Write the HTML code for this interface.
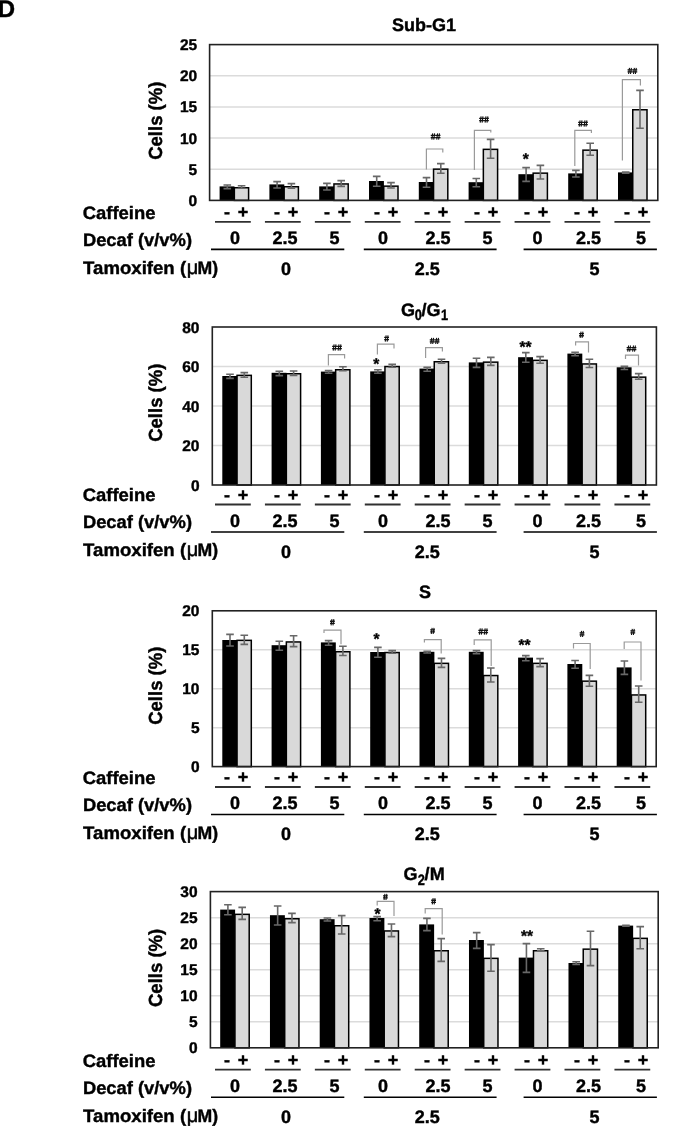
<!DOCTYPE html><html><head><meta charset="utf-8"><style>html,body{margin:0;padding:0;background:#fff;overflow:hidden;}svg{display:block;filter:grayscale(1);}text{stroke:#000;stroke-width:0.4px;}</style></head><body>
<svg width="685" height="1126" viewBox="0 0 685 1126" font-family="'Liberation Sans', sans-serif" font-weight="bold" text-rendering="geometricPrecision">
<rect width="685" height="1126" fill="#fff"/>
<text x="-2.2" y="16.5" font-size="24">D</text>
<line x1="209.6" y1="169.24" x2="657.8" y2="169.24" stroke="#dbdbdb" stroke-width="1.5"/>
<line x1="209.6" y1="138.08" x2="657.8" y2="138.08" stroke="#dbdbdb" stroke-width="1.5"/>
<line x1="209.6" y1="106.92" x2="657.8" y2="106.92" stroke="#dbdbdb" stroke-width="1.5"/>
<line x1="209.6" y1="75.76" x2="657.8" y2="75.76" stroke="#dbdbdb" stroke-width="1.5"/>
<text x="197.2" y="205.90" font-size="15.5" text-anchor="end">0</text>
<text x="197.2" y="174.74" font-size="15.5" text-anchor="end">5</text>
<text x="197.2" y="143.58" font-size="15.5" text-anchor="end">10</text>
<text x="197.2" y="112.42" font-size="15.5" text-anchor="end">15</text>
<text x="197.2" y="81.26" font-size="15.5" text-anchor="end">20</text>
<text x="197.2" y="50.10" font-size="15.5" text-anchor="end">25</text>
<rect x="219.60" y="186.4" width="14.9" height="14.00" fill="#000"/>
<rect x="234.35" y="187.75" width="14.25" height="12.65" fill="#d9d9d9" stroke="#000" stroke-width="1.5"/>
<path d="M227.30 185.0V188.6M223.50 185.0h7.6M223.50 188.6h7.6" stroke="#686868" stroke-width="1.6" fill="none"/>
<path d="M241.60 185.8V188.2M237.80 185.8h7.6M237.80 188.2h7.6" stroke="#686868" stroke-width="1.6" fill="none"/>
<rect x="269.40" y="184.4" width="14.9" height="16.00" fill="#000"/>
<rect x="284.15" y="186.75" width="14.25" height="13.65" fill="#d9d9d9" stroke="#000" stroke-width="1.5"/>
<path d="M277.10 181.6V188.0M273.30 181.6h7.6M273.30 188.0h7.6" stroke="#686868" stroke-width="1.6" fill="none"/>
<path d="M291.40 183.6V188.2M287.60 183.6h7.6M287.60 188.2h7.6" stroke="#686868" stroke-width="1.6" fill="none"/>
<rect x="319.20" y="186.4" width="14.9" height="14.00" fill="#000"/>
<rect x="333.95" y="183.95" width="14.25" height="16.45" fill="#d9d9d9" stroke="#000" stroke-width="1.5"/>
<path d="M326.90 183.4V190.0M323.10 183.4h7.6M323.10 190.0h7.6" stroke="#686868" stroke-width="1.6" fill="none"/>
<path d="M341.20 180.6V186.4M337.40 180.6h7.6M337.40 186.4h7.6" stroke="#686868" stroke-width="1.6" fill="none"/>
<rect x="369.00" y="181.0" width="14.9" height="19.40" fill="#000"/>
<rect x="383.75" y="186.15" width="14.25" height="14.25" fill="#d9d9d9" stroke="#000" stroke-width="1.5"/>
<path d="M376.70 176.4V186.2M372.90 176.4h7.6M372.90 186.2h7.6" stroke="#686868" stroke-width="1.6" fill="none"/>
<path d="M391.00 182.6V188.0M387.20 182.6h7.6M387.20 188.0h7.6" stroke="#686868" stroke-width="1.6" fill="none"/>
<rect x="418.80" y="182.0" width="14.9" height="18.40" fill="#000"/>
<rect x="433.55" y="169.15" width="14.25" height="31.25" fill="#d9d9d9" stroke="#000" stroke-width="1.5"/>
<path d="M426.50 177.6V187.2M422.70 177.6h7.6M422.70 187.2h7.6" stroke="#686868" stroke-width="1.6" fill="none"/>
<path d="M440.80 163.6V173.2M437.00 163.6h7.6M437.00 173.2h7.6" stroke="#686868" stroke-width="1.6" fill="none"/>
<rect x="468.60" y="182.2" width="14.9" height="18.20" fill="#000"/>
<rect x="483.35" y="149.35" width="14.25" height="51.05" fill="#d9d9d9" stroke="#000" stroke-width="1.5"/>
<path d="M476.30 178.5V186.7M472.50 178.5h7.6M472.50 186.7h7.6" stroke="#686868" stroke-width="1.6" fill="none"/>
<path d="M490.60 139.4V158.2M486.80 139.4h7.6M486.80 158.2h7.6" stroke="#686868" stroke-width="1.6" fill="none"/>
<rect x="518.40" y="174.2" width="14.9" height="26.20" fill="#000"/>
<rect x="533.15" y="173.15" width="14.25" height="27.25" fill="#d9d9d9" stroke="#000" stroke-width="1.5"/>
<path d="M526.10 167.6V181.4M522.30 167.6h7.6M522.30 181.4h7.6" stroke="#686868" stroke-width="1.6" fill="none"/>
<path d="M540.40 165.4V179.0M536.60 165.4h7.6M536.60 179.0h7.6" stroke="#686868" stroke-width="1.6" fill="none"/>
<rect x="568.20" y="173.4" width="14.9" height="27.00" fill="#000"/>
<rect x="582.95" y="150.15" width="14.25" height="50.25" fill="#d9d9d9" stroke="#000" stroke-width="1.5"/>
<path d="M575.90 170.4V177.0M572.10 170.4h7.6M572.10 177.0h7.6" stroke="#686868" stroke-width="1.6" fill="none"/>
<path d="M590.20 143.2V155.2M586.40 143.2h7.6M586.40 155.2h7.6" stroke="#686868" stroke-width="1.6" fill="none"/>
<rect x="618.00" y="172.4" width="14.9" height="28.00" fill="#000"/>
<rect x="632.75" y="109.75" width="14.25" height="90.65" fill="#d9d9d9" stroke="#000" stroke-width="1.5"/>
<path d="M625.70 172.0V173.2M621.90 172.0h7.6M621.90 173.2h7.6" stroke="#686868" stroke-width="1.6" fill="none"/>
<path d="M640.00 90.4V128.2M636.20 90.4h7.6M636.20 128.2h7.6" stroke="#686868" stroke-width="1.6" fill="none"/>
<rect x="209.6" y="44.6" width="448.20" height="155.80" fill="none" stroke="#222" stroke-width="1.6"/>
<path d="M426.4 169.6V149.0H442.8V152.6" stroke="#9a9a9a" stroke-width="1.2" fill="none"/>
<path d="M474.4 170.0V130.4H490.8V132.6" stroke="#9a9a9a" stroke-width="1.2" fill="none"/>
<path d="M574.8 166.0V130.4H591.4V133.0" stroke="#9a9a9a" stroke-width="1.2" fill="none"/>
<path d="M622.4 160.4V79.6H640.4V85.6" stroke="#9a9a9a" stroke-width="1.2" fill="none"/>
<path d="M432.70 133.40L431.80 139.60M434.60 133.40L433.70 139.60" stroke="#111" stroke-width="1.1" fill="none"/>
<path d="M437.60 133.40L436.70 139.60M439.50 133.40L438.60 139.60" stroke="#111" stroke-width="1.1" fill="none"/>
<path d="M430.75 135.45h4.8M430.75 137.55h4.8M435.65 135.45h4.8M435.65 137.55h4.8" stroke="#111" stroke-width="1.3" fill="none"/>
<path d="M481.10 116.40L480.20 122.60M483.00 116.40L482.10 122.60" stroke="#111" stroke-width="1.1" fill="none"/>
<path d="M486.00 116.40L485.10 122.60M487.90 116.40L487.00 122.60" stroke="#111" stroke-width="1.1" fill="none"/>
<path d="M479.15 118.45h4.8M479.15 120.55h4.8M484.05 118.45h4.8M484.05 120.55h4.8" stroke="#111" stroke-width="1.3" fill="none"/>
<text x="525.8" y="164.2" font-size="15.5" text-anchor="middle" stroke="#000" stroke-width="0.3">*</text>
<path d="M580.10 120.40L579.20 126.60M582.00 120.40L581.10 126.60" stroke="#111" stroke-width="1.1" fill="none"/>
<path d="M585.00 120.40L584.10 126.60M586.90 120.40L586.00 126.60" stroke="#111" stroke-width="1.1" fill="none"/>
<path d="M578.15 122.45h4.8M578.15 124.55h4.8M583.05 122.45h4.8M583.05 124.55h4.8" stroke="#111" stroke-width="1.3" fill="none"/>
<path d="M629.50 67.80L628.60 74.00M631.40 67.80L630.50 74.00" stroke="#111" stroke-width="1.1" fill="none"/>
<path d="M634.40 67.80L633.50 74.00M636.30 67.80L635.40 74.00" stroke="#111" stroke-width="1.1" fill="none"/>
<path d="M627.55 69.85h4.8M627.55 71.95h4.8M632.45 69.85h4.8M632.45 71.95h4.8" stroke="#111" stroke-width="1.3" fill="none"/>
<text transform="translate(162.4 120.7) rotate(-90)" font-size="19" text-anchor="middle" textLength="78.3" lengthAdjust="spacingAndGlyphs">Cells (%)</text>
<text x="392" y="31" font-size="18">Sub-G1</text>
<g transform="translate(0 0)">
<text x="82.7" y="218.9" font-size="18" textLength="72.7" lengthAdjust="spacingAndGlyphs">Caffeine</text>
<text x="82.9" y="245.9" font-size="18" textLength="109.1" lengthAdjust="spacingAndGlyphs">Decaf (v/v%)</text>
<text x="83.1" y="273.8" font-size="18" textLength="103" lengthAdjust="spacingAndGlyphs">Tamoxifen (</text>
<text x="192.6" y="273.8" font-size="20" font-weight="normal" text-anchor="middle" style="stroke-width:0.5px">μ</text>
<text x="197.5" y="273.8" font-size="18" textLength="20.6" lengthAdjust="spacingAndGlyphs">M)</text>
<text x="227.0" y="218" font-size="18" text-anchor="middle">-</text>
<text x="243.0" y="218" font-size="18" text-anchor="middle">+</text>
<line x1="215.00" y1="221.9" x2="250.80" y2="221.9" stroke="#303030" stroke-width="1.8"/>
<text x="277.0" y="218" font-size="18" text-anchor="middle">-</text>
<text x="293.0" y="218" font-size="18" text-anchor="middle">+</text>
<line x1="264.93" y1="221.9" x2="300.73" y2="221.9" stroke="#303030" stroke-width="1.8"/>
<text x="327.0" y="218" font-size="18" text-anchor="middle">-</text>
<text x="343.0" y="218" font-size="18" text-anchor="middle">+</text>
<line x1="314.86" y1="221.9" x2="350.66" y2="221.9" stroke="#303030" stroke-width="1.8"/>
<text x="377.0" y="218" font-size="18" text-anchor="middle">-</text>
<text x="393.0" y="218" font-size="18" text-anchor="middle">+</text>
<line x1="364.79" y1="221.9" x2="400.59" y2="221.9" stroke="#303030" stroke-width="1.8"/>
<text x="427.0" y="218" font-size="18" text-anchor="middle">-</text>
<text x="443.0" y="218" font-size="18" text-anchor="middle">+</text>
<line x1="414.72" y1="221.9" x2="450.52" y2="221.9" stroke="#303030" stroke-width="1.8"/>
<text x="477.0" y="218" font-size="18" text-anchor="middle">-</text>
<text x="493.0" y="218" font-size="18" text-anchor="middle">+</text>
<line x1="464.65" y1="221.9" x2="500.45" y2="221.9" stroke="#303030" stroke-width="1.8"/>
<text x="527.0" y="218" font-size="18" text-anchor="middle">-</text>
<text x="543.0" y="218" font-size="18" text-anchor="middle">+</text>
<line x1="514.58" y1="221.9" x2="550.38" y2="221.9" stroke="#303030" stroke-width="1.8"/>
<text x="577.0" y="218" font-size="18" text-anchor="middle">-</text>
<text x="593.0" y="218" font-size="18" text-anchor="middle">+</text>
<line x1="564.51" y1="221.9" x2="600.31" y2="221.9" stroke="#303030" stroke-width="1.8"/>
<text x="627.0" y="218" font-size="18" text-anchor="middle">-</text>
<text x="643.0" y="218" font-size="18" text-anchor="middle">+</text>
<line x1="614.44" y1="221.9" x2="650.24" y2="221.9" stroke="#303030" stroke-width="1.8"/>
<text x="235" y="244.2" font-size="18" text-anchor="middle">0</text>
<text x="284.9" y="244.2" font-size="18" text-anchor="middle">2.5</text>
<text x="334.6" y="244.2" font-size="18" text-anchor="middle">5</text>
<text x="383.1" y="244.2" font-size="18" text-anchor="middle">0</text>
<text x="438.1" y="244.2" font-size="18" text-anchor="middle">2.5</text>
<text x="487.5" y="244.2" font-size="18" text-anchor="middle">5</text>
<text x="537.5" y="244.2" font-size="18" text-anchor="middle">0</text>
<text x="588.4" y="244.2" font-size="18" text-anchor="middle">2.5</text>
<text x="640.9" y="244.2" font-size="18" text-anchor="middle">5</text>
<line x1="211" y1="249.4" x2="344.3" y2="249.4" stroke="#000" stroke-width="1.6"/>
<line x1="363.8" y1="249.4" x2="496.6" y2="249.4" stroke="#000" stroke-width="1.6"/>
<line x1="523.6" y1="249.4" x2="656.9" y2="249.4" stroke="#000" stroke-width="1.6"/>
<text x="286.1" y="275.1" font-size="18" text-anchor="middle">0</text>
<text x="427.3" y="275.1" font-size="18" text-anchor="middle">2.5</text>
<text x="594.5" y="275.1" font-size="18" text-anchor="middle">5</text>
</g>
<line x1="212.3" y1="445.50" x2="656.4" y2="445.50" stroke="#dbdbdb" stroke-width="1.5"/>
<line x1="212.3" y1="406.00" x2="656.4" y2="406.00" stroke="#dbdbdb" stroke-width="1.5"/>
<line x1="212.3" y1="366.50" x2="656.4" y2="366.50" stroke="#dbdbdb" stroke-width="1.5"/>
<text x="199.5" y="490.50" font-size="15.5" text-anchor="end">0</text>
<text x="199.5" y="451.00" font-size="15.5" text-anchor="end">20</text>
<text x="199.5" y="411.50" font-size="15.5" text-anchor="end">40</text>
<text x="199.5" y="372.00" font-size="15.5" text-anchor="end">60</text>
<text x="199.5" y="332.50" font-size="15.5" text-anchor="end">80</text>
<rect x="222.30" y="376.0" width="14.9" height="109.00" fill="#000"/>
<rect x="237.05" y="375.35" width="14.25" height="109.65" fill="#d9d9d9" stroke="#000" stroke-width="1.5"/>
<path d="M230.00 374.2V378.4M226.20 374.2h7.6M226.20 378.4h7.6" stroke="#686868" stroke-width="1.6" fill="none"/>
<path d="M244.30 372.6V377.2M240.50 372.6h7.6M240.50 377.2h7.6" stroke="#686868" stroke-width="1.6" fill="none"/>
<rect x="271.60" y="372.8" width="14.9" height="112.20" fill="#000"/>
<rect x="286.35" y="373.75" width="14.25" height="111.25" fill="#d9d9d9" stroke="#000" stroke-width="1.5"/>
<path d="M279.30 371.2V375.6M275.50 371.2h7.6M275.50 375.6h7.6" stroke="#686868" stroke-width="1.6" fill="none"/>
<path d="M293.60 371.0V375.4M289.80 371.0h7.6M289.80 375.4h7.6" stroke="#686868" stroke-width="1.6" fill="none"/>
<rect x="320.90" y="371.6" width="14.9" height="113.40" fill="#000"/>
<rect x="335.65" y="369.75" width="14.25" height="115.25" fill="#d9d9d9" stroke="#000" stroke-width="1.5"/>
<path d="M328.60 370.6V373.2M324.80 370.6h7.6M324.80 373.2h7.6" stroke="#686868" stroke-width="1.6" fill="none"/>
<path d="M342.90 366.8V370.8M339.10 366.8h7.6M339.10 370.8h7.6" stroke="#686868" stroke-width="1.6" fill="none"/>
<rect x="370.20" y="371.4" width="14.9" height="113.60" fill="#000"/>
<rect x="384.95" y="366.55" width="14.25" height="118.45" fill="#d9d9d9" stroke="#000" stroke-width="1.5"/>
<path d="M377.90 369.8V373.2M374.10 369.8h7.6M374.10 373.2h7.6" stroke="#686868" stroke-width="1.6" fill="none"/>
<path d="M392.20 364.4V367.2M388.40 364.4h7.6M388.40 367.2h7.6" stroke="#686868" stroke-width="1.6" fill="none"/>
<rect x="419.50" y="368.6" width="14.9" height="116.40" fill="#000"/>
<rect x="434.25" y="361.75" width="14.25" height="123.25" fill="#d9d9d9" stroke="#000" stroke-width="1.5"/>
<path d="M427.20 367.2V371.2M423.40 367.2h7.6M423.40 371.2h7.6" stroke="#686868" stroke-width="1.6" fill="none"/>
<path d="M441.50 359.2V363.2M437.70 359.2h7.6M437.70 363.2h7.6" stroke="#686868" stroke-width="1.6" fill="none"/>
<rect x="468.80" y="362.4" width="14.9" height="122.60" fill="#000"/>
<rect x="483.55" y="362.15" width="14.25" height="122.85" fill="#d9d9d9" stroke="#000" stroke-width="1.5"/>
<path d="M476.50 358.2V367.4M472.70 358.2h7.6M472.70 367.4h7.6" stroke="#686868" stroke-width="1.6" fill="none"/>
<path d="M490.80 357.4V365.4M487.00 357.4h7.6M487.00 365.4h7.6" stroke="#686868" stroke-width="1.6" fill="none"/>
<rect x="518.10" y="357.2" width="14.9" height="127.80" fill="#000"/>
<rect x="532.85" y="360.35" width="14.25" height="124.65" fill="#d9d9d9" stroke="#000" stroke-width="1.5"/>
<path d="M525.80 352.6V362.2M522.00 352.6h7.6M522.00 362.2h7.6" stroke="#686868" stroke-width="1.6" fill="none"/>
<path d="M540.10 356.6V363.2M536.30 356.6h7.6M536.30 363.2h7.6" stroke="#686868" stroke-width="1.6" fill="none"/>
<rect x="567.40" y="353.6" width="14.9" height="131.40" fill="#000"/>
<rect x="582.15" y="363.95" width="14.25" height="121.05" fill="#d9d9d9" stroke="#000" stroke-width="1.5"/>
<path d="M575.10 352.2V355.7M571.30 352.2h7.6M571.30 355.7h7.6" stroke="#686868" stroke-width="1.6" fill="none"/>
<path d="M589.40 359.3V367.5M585.60 359.3h7.6M585.60 367.5h7.6" stroke="#686868" stroke-width="1.6" fill="none"/>
<rect x="616.70" y="367.3" width="14.9" height="117.70" fill="#000"/>
<rect x="631.45" y="377.15" width="14.25" height="107.85" fill="#d9d9d9" stroke="#000" stroke-width="1.5"/>
<path d="M624.40 366.2V369.5M620.60 366.2h7.6M620.60 369.5h7.6" stroke="#686868" stroke-width="1.6" fill="none"/>
<path d="M638.70 373.6V379.3M634.90 373.6h7.6M634.90 379.3h7.6" stroke="#686868" stroke-width="1.6" fill="none"/>
<rect x="212.3" y="327.0" width="444.10" height="158.00" fill="none" stroke="#222" stroke-width="1.6"/>
<path d="M328.4 365.4V354.6H344.6V358.6" stroke="#9a9a9a" stroke-width="1.2" fill="none"/>
<path d="M377.4 354.6V344.2H394.0V348.4" stroke="#9a9a9a" stroke-width="1.2" fill="none"/>
<path d="M425.6 358.0V347.6H442.4V351.4" stroke="#9a9a9a" stroke-width="1.2" fill="none"/>
<path d="M575.6 345.4V341.9H588.5V352.4" stroke="#9a9a9a" stroke-width="1.2" fill="none"/>
<path d="M625.5 358.9V355.2H638.5V365.4" stroke="#9a9a9a" stroke-width="1.2" fill="none"/>
<path d="M334.10 344.40L333.20 350.60M336.00 344.40L335.10 350.60" stroke="#111" stroke-width="1.1" fill="none"/>
<path d="M339.00 344.40L338.10 350.60M340.90 344.40L340.00 350.60" stroke="#111" stroke-width="1.1" fill="none"/>
<path d="M332.15 346.45h4.8M332.15 348.55h4.8M337.05 346.45h4.8M337.05 348.55h4.8" stroke="#111" stroke-width="1.3" fill="none"/>
<text x="376.2" y="368.59999999999997" font-size="15.5" text-anchor="middle" stroke="#000" stroke-width="0.3">*</text>
<path d="M386.15 335.40L385.25 341.60M388.05 335.40L387.15 341.60" stroke="#111" stroke-width="1.1" fill="none"/>
<path d="M384.20 337.45h4.8M384.20 339.55h4.8" stroke="#111" stroke-width="1.3" fill="none"/>
<path d="M431.70 337.80L430.80 344.00M433.60 337.80L432.70 344.00" stroke="#111" stroke-width="1.1" fill="none"/>
<path d="M436.60 337.80L435.70 344.00M438.50 337.80L437.60 344.00" stroke="#111" stroke-width="1.1" fill="none"/>
<path d="M429.75 339.85h4.8M429.75 341.95h4.8M434.65 339.85h4.8M434.65 341.95h4.8" stroke="#111" stroke-width="1.3" fill="none"/>
<text x="525.6" y="351.8" font-size="15.5" text-anchor="middle" stroke="#000" stroke-width="0.3">**</text>
<path d="M581.05 331.60L580.15 337.80M582.95 331.60L582.05 337.80" stroke="#111" stroke-width="1.1" fill="none"/>
<path d="M579.10 333.65h4.8M579.10 335.75h4.8" stroke="#111" stroke-width="1.3" fill="none"/>
<path d="M628.60 345.50L627.70 351.70M630.50 345.50L629.60 351.70" stroke="#111" stroke-width="1.1" fill="none"/>
<path d="M633.50 345.50L632.60 351.70M635.40 345.50L634.50 351.70" stroke="#111" stroke-width="1.1" fill="none"/>
<path d="M626.65 347.55h4.8M626.65 349.65h4.8M631.55 347.55h4.8M631.55 349.65h4.8" stroke="#111" stroke-width="1.3" fill="none"/>
<text transform="translate(162.4 402.7) rotate(-90)" font-size="19" text-anchor="middle" textLength="78.3" lengthAdjust="spacingAndGlyphs">Cells (%)</text>
<text x="407.9" y="316" font-size="18" text-anchor="middle">G</text>
<text transform="translate(418.2 320.2) scale(0.85 1)" font-size="15" text-anchor="middle">0</text>
<text x="423.9" y="316" font-size="18" text-anchor="middle">/</text>
<text x="433.5" y="316" font-size="18" text-anchor="middle">G</text>
<text transform="translate(444.6 320.2) scale(0.85 1)" font-size="15" text-anchor="middle">1</text>
<g transform="translate(0 282.6)">
<text x="82.7" y="218.9" font-size="18" textLength="72.7" lengthAdjust="spacingAndGlyphs">Caffeine</text>
<text x="82.9" y="245.9" font-size="18" textLength="109.1" lengthAdjust="spacingAndGlyphs">Decaf (v/v%)</text>
<text x="83.1" y="273.8" font-size="18" textLength="103" lengthAdjust="spacingAndGlyphs">Tamoxifen (</text>
<text x="192.6" y="273.8" font-size="20" font-weight="normal" text-anchor="middle" style="stroke-width:0.5px">μ</text>
<text x="197.5" y="273.8" font-size="18" textLength="20.6" lengthAdjust="spacingAndGlyphs">M)</text>
<text x="227.0" y="218" font-size="18" text-anchor="middle">-</text>
<text x="243.0" y="218" font-size="18" text-anchor="middle">+</text>
<line x1="215.00" y1="221.9" x2="250.80" y2="221.9" stroke="#303030" stroke-width="1.8"/>
<text x="277.0" y="218" font-size="18" text-anchor="middle">-</text>
<text x="293.0" y="218" font-size="18" text-anchor="middle">+</text>
<line x1="264.93" y1="221.9" x2="300.73" y2="221.9" stroke="#303030" stroke-width="1.8"/>
<text x="327.0" y="218" font-size="18" text-anchor="middle">-</text>
<text x="343.0" y="218" font-size="18" text-anchor="middle">+</text>
<line x1="314.86" y1="221.9" x2="350.66" y2="221.9" stroke="#303030" stroke-width="1.8"/>
<text x="377.0" y="218" font-size="18" text-anchor="middle">-</text>
<text x="393.0" y="218" font-size="18" text-anchor="middle">+</text>
<line x1="364.79" y1="221.9" x2="400.59" y2="221.9" stroke="#303030" stroke-width="1.8"/>
<text x="427.0" y="218" font-size="18" text-anchor="middle">-</text>
<text x="443.0" y="218" font-size="18" text-anchor="middle">+</text>
<line x1="414.72" y1="221.9" x2="450.52" y2="221.9" stroke="#303030" stroke-width="1.8"/>
<text x="477.0" y="218" font-size="18" text-anchor="middle">-</text>
<text x="493.0" y="218" font-size="18" text-anchor="middle">+</text>
<line x1="464.65" y1="221.9" x2="500.45" y2="221.9" stroke="#303030" stroke-width="1.8"/>
<text x="527.0" y="218" font-size="18" text-anchor="middle">-</text>
<text x="543.0" y="218" font-size="18" text-anchor="middle">+</text>
<line x1="514.58" y1="221.9" x2="550.38" y2="221.9" stroke="#303030" stroke-width="1.8"/>
<text x="577.0" y="218" font-size="18" text-anchor="middle">-</text>
<text x="593.0" y="218" font-size="18" text-anchor="middle">+</text>
<line x1="564.51" y1="221.9" x2="600.31" y2="221.9" stroke="#303030" stroke-width="1.8"/>
<text x="627.0" y="218" font-size="18" text-anchor="middle">-</text>
<text x="643.0" y="218" font-size="18" text-anchor="middle">+</text>
<line x1="614.44" y1="221.9" x2="650.24" y2="221.9" stroke="#303030" stroke-width="1.8"/>
<text x="235" y="244.2" font-size="18" text-anchor="middle">0</text>
<text x="284.9" y="244.2" font-size="18" text-anchor="middle">2.5</text>
<text x="334.6" y="244.2" font-size="18" text-anchor="middle">5</text>
<text x="383.1" y="244.2" font-size="18" text-anchor="middle">0</text>
<text x="438.1" y="244.2" font-size="18" text-anchor="middle">2.5</text>
<text x="487.5" y="244.2" font-size="18" text-anchor="middle">5</text>
<text x="537.5" y="244.2" font-size="18" text-anchor="middle">0</text>
<text x="588.4" y="244.2" font-size="18" text-anchor="middle">2.5</text>
<text x="640.9" y="244.2" font-size="18" text-anchor="middle">5</text>
<line x1="211" y1="249.4" x2="344.3" y2="249.4" stroke="#000" stroke-width="1.6"/>
<line x1="363.8" y1="249.4" x2="496.6" y2="249.4" stroke="#000" stroke-width="1.6"/>
<line x1="523.6" y1="249.4" x2="656.9" y2="249.4" stroke="#000" stroke-width="1.6"/>
<text x="286.1" y="275.1" font-size="18" text-anchor="middle">0</text>
<text x="427.3" y="275.1" font-size="18" text-anchor="middle">2.5</text>
<text x="594.5" y="275.1" font-size="18" text-anchor="middle">5</text>
</g>
<line x1="212.3" y1="727.65" x2="656.2" y2="727.65" stroke="#dbdbdb" stroke-width="1.5"/>
<line x1="212.3" y1="688.70" x2="656.2" y2="688.70" stroke="#dbdbdb" stroke-width="1.5"/>
<line x1="212.3" y1="649.75" x2="656.2" y2="649.75" stroke="#dbdbdb" stroke-width="1.5"/>
<text x="199.5" y="772.10" font-size="15.5" text-anchor="end">0</text>
<text x="199.5" y="733.15" font-size="15.5" text-anchor="end">5</text>
<text x="199.5" y="694.20" font-size="15.5" text-anchor="end">10</text>
<text x="199.5" y="655.25" font-size="15.5" text-anchor="end">15</text>
<text x="199.5" y="616.30" font-size="15.5" text-anchor="end">20</text>
<rect x="222.30" y="640.0" width="14.9" height="126.60" fill="#000"/>
<rect x="237.05" y="640.35" width="14.25" height="126.25" fill="#d9d9d9" stroke="#000" stroke-width="1.5"/>
<path d="M230.00 634.4V646.0M226.20 634.4h7.6M226.20 646.0h7.6" stroke="#686868" stroke-width="1.6" fill="none"/>
<path d="M244.30 635.2V644.4M240.50 635.2h7.6M240.50 644.4h7.6" stroke="#686868" stroke-width="1.6" fill="none"/>
<rect x="271.60" y="645.2" width="14.9" height="121.40" fill="#000"/>
<rect x="286.35" y="641.95" width="14.25" height="124.65" fill="#d9d9d9" stroke="#000" stroke-width="1.5"/>
<path d="M279.30 641.2V650.2M275.50 641.2h7.6M275.50 650.2h7.6" stroke="#686868" stroke-width="1.6" fill="none"/>
<path d="M293.60 635.8V646.6M289.80 635.8h7.6M289.80 646.6h7.6" stroke="#686868" stroke-width="1.6" fill="none"/>
<rect x="320.90" y="642.4" width="14.9" height="124.20" fill="#000"/>
<rect x="335.65" y="651.75" width="14.25" height="114.85" fill="#d9d9d9" stroke="#000" stroke-width="1.5"/>
<path d="M328.60 640.6V645.2M324.80 640.6h7.6M324.80 645.2h7.6" stroke="#686868" stroke-width="1.6" fill="none"/>
<path d="M342.90 646.3V655.5M339.10 646.3h7.6M339.10 655.5h7.6" stroke="#686868" stroke-width="1.6" fill="none"/>
<rect x="370.20" y="652.0" width="14.9" height="114.60" fill="#000"/>
<rect x="384.95" y="652.55" width="14.25" height="114.05" fill="#d9d9d9" stroke="#000" stroke-width="1.5"/>
<path d="M377.90 647.4V657.2M374.10 647.4h7.6M374.10 657.2h7.6" stroke="#686868" stroke-width="1.6" fill="none"/>
<path d="M392.20 650.6V653.2M388.40 650.6h7.6M388.40 653.2h7.6" stroke="#686868" stroke-width="1.6" fill="none"/>
<rect x="419.50" y="651.8" width="14.9" height="114.80" fill="#000"/>
<rect x="434.25" y="663.35" width="14.25" height="103.25" fill="#d9d9d9" stroke="#000" stroke-width="1.5"/>
<path d="M427.20 651.2V653.0M423.40 651.2h7.6M423.40 653.0h7.6" stroke="#686868" stroke-width="1.6" fill="none"/>
<path d="M441.50 658.4V667.4M437.70 658.4h7.6M437.70 667.4h7.6" stroke="#686868" stroke-width="1.6" fill="none"/>
<rect x="468.80" y="651.8" width="14.9" height="114.80" fill="#000"/>
<rect x="483.55" y="675.55" width="14.25" height="91.05" fill="#d9d9d9" stroke="#000" stroke-width="1.5"/>
<path d="M476.50 650.6V653.6M472.70 650.6h7.6M472.70 653.6h7.6" stroke="#686868" stroke-width="1.6" fill="none"/>
<path d="M490.80 668.0V682.0M487.00 668.0h7.6M487.00 682.0h7.6" stroke="#686868" stroke-width="1.6" fill="none"/>
<rect x="518.10" y="657.6" width="14.9" height="109.00" fill="#000"/>
<rect x="532.85" y="663.35" width="14.25" height="103.25" fill="#d9d9d9" stroke="#000" stroke-width="1.5"/>
<path d="M525.80 655.6V660.8M522.00 655.6h7.6M522.00 660.8h7.6" stroke="#686868" stroke-width="1.6" fill="none"/>
<path d="M540.10 658.6V666.6M536.30 658.6h7.6M536.30 666.6h7.6" stroke="#686868" stroke-width="1.6" fill="none"/>
<rect x="567.40" y="664.0" width="14.9" height="102.60" fill="#000"/>
<rect x="582.15" y="681.15" width="14.25" height="85.45" fill="#d9d9d9" stroke="#000" stroke-width="1.5"/>
<path d="M575.10 660.5V668.3M571.30 660.5h7.6M571.30 668.3h7.6" stroke="#686868" stroke-width="1.6" fill="none"/>
<path d="M589.40 675.4V686.2M585.60 675.4h7.6M585.60 686.2h7.6" stroke="#686868" stroke-width="1.6" fill="none"/>
<rect x="616.70" y="667.4" width="14.9" height="99.20" fill="#000"/>
<rect x="631.45" y="694.95" width="14.25" height="71.65" fill="#d9d9d9" stroke="#000" stroke-width="1.5"/>
<path d="M624.40 661.0V674.4M620.60 661.0h7.6M620.60 674.4h7.6" stroke="#686868" stroke-width="1.6" fill="none"/>
<path d="M638.70 686.0V702.2M634.90 686.0h7.6M634.90 702.2h7.6" stroke="#686868" stroke-width="1.6" fill="none"/>
<rect x="212.3" y="610.8" width="443.90" height="155.80" fill="none" stroke="#222" stroke-width="1.6"/>
<path d="M324.0 633.0V630.2H341.0V644.2" stroke="#9a9a9a" stroke-width="1.2" fill="none"/>
<path d="M424.4 642.6V639.6H441.2V653.6" stroke="#9a9a9a" stroke-width="1.2" fill="none"/>
<path d="M474.2 645.0V639.8H491.2V666.0" stroke="#9a9a9a" stroke-width="1.2" fill="none"/>
<path d="M573.5 648.6V643.5H590.2V669.0" stroke="#9a9a9a" stroke-width="1.2" fill="none"/>
<path d="M624.2 649.0V642.0H641.0V680.4" stroke="#9a9a9a" stroke-width="1.2" fill="none"/>
<path d="M331.95 619.20L331.05 625.40M333.85 619.20L332.95 625.40" stroke="#111" stroke-width="1.1" fill="none"/>
<path d="M330.00 621.25h4.8M330.00 623.35h4.8" stroke="#111" stroke-width="1.3" fill="none"/>
<text x="376.6" y="643.6" font-size="15.5" text-anchor="middle" stroke="#000" stroke-width="0.3">*</text>
<path d="M432.15 627.80L431.25 634.00M434.05 627.80L433.15 634.00" stroke="#111" stroke-width="1.1" fill="none"/>
<path d="M430.20 629.85h4.8M430.20 631.95h4.8" stroke="#111" stroke-width="1.3" fill="none"/>
<path d="M480.30 628.40L479.40 634.60M482.20 628.40L481.30 634.60" stroke="#111" stroke-width="1.1" fill="none"/>
<path d="M485.20 628.40L484.30 634.60M487.10 628.40L486.20 634.60" stroke="#111" stroke-width="1.1" fill="none"/>
<path d="M478.35 630.45h4.8M478.35 632.55h4.8M483.25 630.45h4.8M483.25 632.55h4.8" stroke="#111" stroke-width="1.3" fill="none"/>
<text x="524.6" y="649.6" font-size="15.5" text-anchor="middle" stroke="#000" stroke-width="0.3">**</text>
<path d="M581.55 630.80L580.65 637.00M583.45 630.80L582.55 637.00" stroke="#111" stroke-width="1.1" fill="none"/>
<path d="M579.60 632.85h4.8M579.60 634.95h4.8" stroke="#111" stroke-width="1.3" fill="none"/>
<path d="M632.35 628.80L631.45 635.00M634.25 628.80L633.35 635.00" stroke="#111" stroke-width="1.1" fill="none"/>
<path d="M630.40 630.85h4.8M630.40 632.95h4.8" stroke="#111" stroke-width="1.3" fill="none"/>
<text transform="translate(162.4 685.7) rotate(-90)" font-size="19" text-anchor="middle" textLength="78.3" lengthAdjust="spacingAndGlyphs">Cells (%)</text>
<text x="424.9" y="598.4" font-size="18" text-anchor="middle">S</text>
<g transform="translate(0 565.1)">
<text x="82.7" y="218.9" font-size="18" textLength="72.7" lengthAdjust="spacingAndGlyphs">Caffeine</text>
<text x="82.9" y="245.9" font-size="18" textLength="109.1" lengthAdjust="spacingAndGlyphs">Decaf (v/v%)</text>
<text x="83.1" y="273.8" font-size="18" textLength="103" lengthAdjust="spacingAndGlyphs">Tamoxifen (</text>
<text x="192.6" y="273.8" font-size="20" font-weight="normal" text-anchor="middle" style="stroke-width:0.5px">μ</text>
<text x="197.5" y="273.8" font-size="18" textLength="20.6" lengthAdjust="spacingAndGlyphs">M)</text>
<text x="227.0" y="218" font-size="18" text-anchor="middle">-</text>
<text x="243.0" y="218" font-size="18" text-anchor="middle">+</text>
<line x1="215.00" y1="221.9" x2="250.80" y2="221.9" stroke="#303030" stroke-width="1.8"/>
<text x="277.0" y="218" font-size="18" text-anchor="middle">-</text>
<text x="293.0" y="218" font-size="18" text-anchor="middle">+</text>
<line x1="264.93" y1="221.9" x2="300.73" y2="221.9" stroke="#303030" stroke-width="1.8"/>
<text x="327.0" y="218" font-size="18" text-anchor="middle">-</text>
<text x="343.0" y="218" font-size="18" text-anchor="middle">+</text>
<line x1="314.86" y1="221.9" x2="350.66" y2="221.9" stroke="#303030" stroke-width="1.8"/>
<text x="377.0" y="218" font-size="18" text-anchor="middle">-</text>
<text x="393.0" y="218" font-size="18" text-anchor="middle">+</text>
<line x1="364.79" y1="221.9" x2="400.59" y2="221.9" stroke="#303030" stroke-width="1.8"/>
<text x="427.0" y="218" font-size="18" text-anchor="middle">-</text>
<text x="443.0" y="218" font-size="18" text-anchor="middle">+</text>
<line x1="414.72" y1="221.9" x2="450.52" y2="221.9" stroke="#303030" stroke-width="1.8"/>
<text x="477.0" y="218" font-size="18" text-anchor="middle">-</text>
<text x="493.0" y="218" font-size="18" text-anchor="middle">+</text>
<line x1="464.65" y1="221.9" x2="500.45" y2="221.9" stroke="#303030" stroke-width="1.8"/>
<text x="527.0" y="218" font-size="18" text-anchor="middle">-</text>
<text x="543.0" y="218" font-size="18" text-anchor="middle">+</text>
<line x1="514.58" y1="221.9" x2="550.38" y2="221.9" stroke="#303030" stroke-width="1.8"/>
<text x="577.0" y="218" font-size="18" text-anchor="middle">-</text>
<text x="593.0" y="218" font-size="18" text-anchor="middle">+</text>
<line x1="564.51" y1="221.9" x2="600.31" y2="221.9" stroke="#303030" stroke-width="1.8"/>
<text x="627.0" y="218" font-size="18" text-anchor="middle">-</text>
<text x="643.0" y="218" font-size="18" text-anchor="middle">+</text>
<line x1="614.44" y1="221.9" x2="650.24" y2="221.9" stroke="#303030" stroke-width="1.8"/>
<text x="235" y="244.2" font-size="18" text-anchor="middle">0</text>
<text x="284.9" y="244.2" font-size="18" text-anchor="middle">2.5</text>
<text x="334.6" y="244.2" font-size="18" text-anchor="middle">5</text>
<text x="383.1" y="244.2" font-size="18" text-anchor="middle">0</text>
<text x="438.1" y="244.2" font-size="18" text-anchor="middle">2.5</text>
<text x="487.5" y="244.2" font-size="18" text-anchor="middle">5</text>
<text x="537.5" y="244.2" font-size="18" text-anchor="middle">0</text>
<text x="588.4" y="244.2" font-size="18" text-anchor="middle">2.5</text>
<text x="640.9" y="244.2" font-size="18" text-anchor="middle">5</text>
<line x1="211" y1="249.4" x2="344.3" y2="249.4" stroke="#000" stroke-width="1.6"/>
<line x1="363.8" y1="249.4" x2="496.6" y2="249.4" stroke="#000" stroke-width="1.6"/>
<line x1="523.6" y1="249.4" x2="656.9" y2="249.4" stroke="#000" stroke-width="1.6"/>
<text x="286.1" y="275.1" font-size="18" text-anchor="middle">0</text>
<text x="427.3" y="275.1" font-size="18" text-anchor="middle">2.5</text>
<text x="594.5" y="275.1" font-size="18" text-anchor="middle">5</text>
</g>
<line x1="210.4" y1="1021.77" x2="658.2" y2="1021.77" stroke="#dbdbdb" stroke-width="1.5"/>
<line x1="210.4" y1="995.73" x2="658.2" y2="995.73" stroke="#dbdbdb" stroke-width="1.5"/>
<line x1="210.4" y1="969.70" x2="658.2" y2="969.70" stroke="#dbdbdb" stroke-width="1.5"/>
<line x1="210.4" y1="943.67" x2="658.2" y2="943.67" stroke="#dbdbdb" stroke-width="1.5"/>
<line x1="210.4" y1="917.63" x2="658.2" y2="917.63" stroke="#dbdbdb" stroke-width="1.5"/>
<text x="197.6" y="1053.30" font-size="15.5" text-anchor="end">0</text>
<text x="197.6" y="1027.27" font-size="15.5" text-anchor="end">5</text>
<text x="197.6" y="1001.23" font-size="15.5" text-anchor="end">10</text>
<text x="197.6" y="975.20" font-size="15.5" text-anchor="end">15</text>
<text x="197.6" y="949.17" font-size="15.5" text-anchor="end">20</text>
<text x="197.6" y="923.13" font-size="15.5" text-anchor="end">25</text>
<text x="197.6" y="897.10" font-size="15.5" text-anchor="end">30</text>
<rect x="220.20" y="909.6" width="14.9" height="138.20" fill="#000"/>
<rect x="234.95" y="914.35" width="14.25" height="133.45" fill="#d9d9d9" stroke="#000" stroke-width="1.5"/>
<path d="M227.90 904.8V914.8M224.10 904.8h7.6M224.10 914.8h7.6" stroke="#686868" stroke-width="1.6" fill="none"/>
<path d="M242.20 907.4V919.4M238.40 907.4h7.6M238.40 919.4h7.6" stroke="#686868" stroke-width="1.6" fill="none"/>
<rect x="269.96" y="915.2" width="14.9" height="132.60" fill="#000"/>
<rect x="284.71" y="918.75" width="14.25" height="129.05" fill="#d9d9d9" stroke="#000" stroke-width="1.5"/>
<path d="M277.66 906.0V925.0M273.86 906.0h7.6M273.86 925.0h7.6" stroke="#686868" stroke-width="1.6" fill="none"/>
<path d="M291.96 913.4V922.6M288.16 913.4h7.6M288.16 922.6h7.6" stroke="#686868" stroke-width="1.6" fill="none"/>
<rect x="319.71" y="919.2" width="14.9" height="128.60" fill="#000"/>
<rect x="334.46" y="925.75" width="14.25" height="122.05" fill="#d9d9d9" stroke="#000" stroke-width="1.5"/>
<path d="M327.41 918.0V921.0M323.61 918.0h7.6M323.61 921.0h7.6" stroke="#686868" stroke-width="1.6" fill="none"/>
<path d="M341.71 915.6V934.0M337.91 915.6h7.6M337.91 934.0h7.6" stroke="#686868" stroke-width="1.6" fill="none"/>
<rect x="369.47" y="918.0" width="14.9" height="129.80" fill="#000"/>
<rect x="384.22" y="930.95" width="14.25" height="116.85" fill="#d9d9d9" stroke="#000" stroke-width="1.5"/>
<path d="M377.17 916.6V920.8M373.37 916.6h7.6M373.37 920.8h7.6" stroke="#686868" stroke-width="1.6" fill="none"/>
<path d="M391.47 924.0V936.6M387.67 924.0h7.6M387.67 936.6h7.6" stroke="#686868" stroke-width="1.6" fill="none"/>
<rect x="419.22" y="924.4" width="14.9" height="123.40" fill="#000"/>
<rect x="433.97" y="950.75" width="14.25" height="97.05" fill="#d9d9d9" stroke="#000" stroke-width="1.5"/>
<path d="M426.92 918.4V930.6M423.12 918.4h7.6M423.12 930.6h7.6" stroke="#686868" stroke-width="1.6" fill="none"/>
<path d="M441.22 938.6V961.4M437.42 938.6h7.6M437.42 961.4h7.6" stroke="#686868" stroke-width="1.6" fill="none"/>
<rect x="468.98" y="940.0" width="14.9" height="107.80" fill="#000"/>
<rect x="483.73" y="958.35" width="14.25" height="89.45" fill="#d9d9d9" stroke="#000" stroke-width="1.5"/>
<path d="M476.68 932.6V948.4M472.88 932.6h7.6M472.88 948.4h7.6" stroke="#686868" stroke-width="1.6" fill="none"/>
<path d="M490.98 944.6V971.2M487.18 944.6h7.6M487.18 971.2h7.6" stroke="#686868" stroke-width="1.6" fill="none"/>
<rect x="518.73" y="957.6" width="14.9" height="90.20" fill="#000"/>
<rect x="533.48" y="950.75" width="14.25" height="97.05" fill="#d9d9d9" stroke="#000" stroke-width="1.5"/>
<path d="M526.43 943.6V972.4M522.63 943.6h7.6M522.63 972.4h7.6" stroke="#686868" stroke-width="1.6" fill="none"/>
<path d="M540.73 948.8V950.8M536.93 948.8h7.6M536.93 950.8h7.6" stroke="#686868" stroke-width="1.6" fill="none"/>
<rect x="568.49" y="963.0" width="14.9" height="84.80" fill="#000"/>
<rect x="583.24" y="949.15" width="14.25" height="98.65" fill="#d9d9d9" stroke="#000" stroke-width="1.5"/>
<path d="M576.19 961.8V964.4M572.39 961.8h7.6M572.39 964.4h7.6" stroke="#686868" stroke-width="1.6" fill="none"/>
<path d="M590.49 931.2V965.6M586.69 931.2h7.6M586.69 965.6h7.6" stroke="#686868" stroke-width="1.6" fill="none"/>
<rect x="618.24" y="925.6" width="14.9" height="122.20" fill="#000"/>
<rect x="632.99" y="938.35" width="14.25" height="109.45" fill="#d9d9d9" stroke="#000" stroke-width="1.5"/>
<path d="M625.94 925.4V926.2M622.14 925.4h7.6M622.14 926.2h7.6" stroke="#686868" stroke-width="1.6" fill="none"/>
<path d="M640.24 926.6V948.8M636.44 926.6h7.6M636.44 948.8h7.6" stroke="#686868" stroke-width="1.6" fill="none"/>
<rect x="210.4" y="891.6" width="447.80" height="156.20" fill="none" stroke="#222" stroke-width="1.6"/>
<path d="M377.2 905.4V901.4H394.0V916.0" stroke="#9a9a9a" stroke-width="1.2" fill="none"/>
<path d="M425.2 913.6V908.6H442.2V934.4" stroke="#9a9a9a" stroke-width="1.2" fill="none"/>
<text x="377.4" y="918.6" font-size="15.5" text-anchor="middle" stroke="#000" stroke-width="0.3">*</text>
<path d="M384.95 893.80L384.05 900.00M386.85 893.80L385.95 900.00" stroke="#111" stroke-width="1.1" fill="none"/>
<path d="M383.00 895.85h4.8M383.00 897.95h4.8" stroke="#111" stroke-width="1.3" fill="none"/>
<path d="M433.15 898.20L432.25 904.40M435.05 898.20L434.15 904.40" stroke="#111" stroke-width="1.1" fill="none"/>
<path d="M431.20 900.25h4.8M431.20 902.35h4.8" stroke="#111" stroke-width="1.3" fill="none"/>
<text x="527" y="941.2" font-size="15.5" text-anchor="middle" stroke="#000" stroke-width="0.3">**</text>
<text transform="translate(162.4 967.9) rotate(-90)" font-size="19" text-anchor="middle" textLength="78.3" lengthAdjust="spacingAndGlyphs">Cells (%)</text>
<text x="410.5" y="880.2" font-size="18" text-anchor="middle">G</text>
<text transform="translate(421.4 885) scale(0.85 1)" font-size="15" text-anchor="middle">2</text>
<text x="427" y="880.2" font-size="18" text-anchor="middle">/</text>
<text x="437.3" y="880.2" font-size="18" text-anchor="middle">M</text>
<g transform="translate(0 847.8)">
<text x="82.7" y="218.9" font-size="18" textLength="72.7" lengthAdjust="spacingAndGlyphs">Caffeine</text>
<text x="82.9" y="245.9" font-size="18" textLength="109.1" lengthAdjust="spacingAndGlyphs">Decaf (v/v%)</text>
<text x="83.1" y="273.8" font-size="18" textLength="103" lengthAdjust="spacingAndGlyphs">Tamoxifen (</text>
<text x="192.6" y="273.8" font-size="20" font-weight="normal" text-anchor="middle" style="stroke-width:0.5px">μ</text>
<text x="197.5" y="273.8" font-size="18" textLength="20.6" lengthAdjust="spacingAndGlyphs">M)</text>
<text x="227.0" y="218" font-size="18" text-anchor="middle">-</text>
<text x="243.0" y="218" font-size="18" text-anchor="middle">+</text>
<line x1="215.00" y1="221.9" x2="250.80" y2="221.9" stroke="#303030" stroke-width="1.8"/>
<text x="277.0" y="218" font-size="18" text-anchor="middle">-</text>
<text x="293.0" y="218" font-size="18" text-anchor="middle">+</text>
<line x1="264.93" y1="221.9" x2="300.73" y2="221.9" stroke="#303030" stroke-width="1.8"/>
<text x="327.0" y="218" font-size="18" text-anchor="middle">-</text>
<text x="343.0" y="218" font-size="18" text-anchor="middle">+</text>
<line x1="314.86" y1="221.9" x2="350.66" y2="221.9" stroke="#303030" stroke-width="1.8"/>
<text x="377.0" y="218" font-size="18" text-anchor="middle">-</text>
<text x="393.0" y="218" font-size="18" text-anchor="middle">+</text>
<line x1="364.79" y1="221.9" x2="400.59" y2="221.9" stroke="#303030" stroke-width="1.8"/>
<text x="427.0" y="218" font-size="18" text-anchor="middle">-</text>
<text x="443.0" y="218" font-size="18" text-anchor="middle">+</text>
<line x1="414.72" y1="221.9" x2="450.52" y2="221.9" stroke="#303030" stroke-width="1.8"/>
<text x="477.0" y="218" font-size="18" text-anchor="middle">-</text>
<text x="493.0" y="218" font-size="18" text-anchor="middle">+</text>
<line x1="464.65" y1="221.9" x2="500.45" y2="221.9" stroke="#303030" stroke-width="1.8"/>
<text x="527.0" y="218" font-size="18" text-anchor="middle">-</text>
<text x="543.0" y="218" font-size="18" text-anchor="middle">+</text>
<line x1="514.58" y1="221.9" x2="550.38" y2="221.9" stroke="#303030" stroke-width="1.8"/>
<text x="577.0" y="218" font-size="18" text-anchor="middle">-</text>
<text x="593.0" y="218" font-size="18" text-anchor="middle">+</text>
<line x1="564.51" y1="221.9" x2="600.31" y2="221.9" stroke="#303030" stroke-width="1.8"/>
<text x="627.0" y="218" font-size="18" text-anchor="middle">-</text>
<text x="643.0" y="218" font-size="18" text-anchor="middle">+</text>
<line x1="614.44" y1="221.9" x2="650.24" y2="221.9" stroke="#303030" stroke-width="1.8"/>
<text x="235" y="244.2" font-size="18" text-anchor="middle">0</text>
<text x="284.9" y="244.2" font-size="18" text-anchor="middle">2.5</text>
<text x="334.6" y="244.2" font-size="18" text-anchor="middle">5</text>
<text x="383.1" y="244.2" font-size="18" text-anchor="middle">0</text>
<text x="438.1" y="244.2" font-size="18" text-anchor="middle">2.5</text>
<text x="487.5" y="244.2" font-size="18" text-anchor="middle">5</text>
<text x="537.5" y="244.2" font-size="18" text-anchor="middle">0</text>
<text x="588.4" y="244.2" font-size="18" text-anchor="middle">2.5</text>
<text x="640.9" y="244.2" font-size="18" text-anchor="middle">5</text>
<line x1="211" y1="249.4" x2="344.3" y2="249.4" stroke="#000" stroke-width="1.6"/>
<line x1="363.8" y1="249.4" x2="496.6" y2="249.4" stroke="#000" stroke-width="1.6"/>
<line x1="523.6" y1="249.4" x2="656.9" y2="249.4" stroke="#000" stroke-width="1.6"/>
<text x="286.1" y="275.1" font-size="18" text-anchor="middle">0</text>
<text x="427.3" y="275.1" font-size="18" text-anchor="middle">2.5</text>
<text x="594.5" y="275.1" font-size="18" text-anchor="middle">5</text>
</g>
</svg></body></html>
